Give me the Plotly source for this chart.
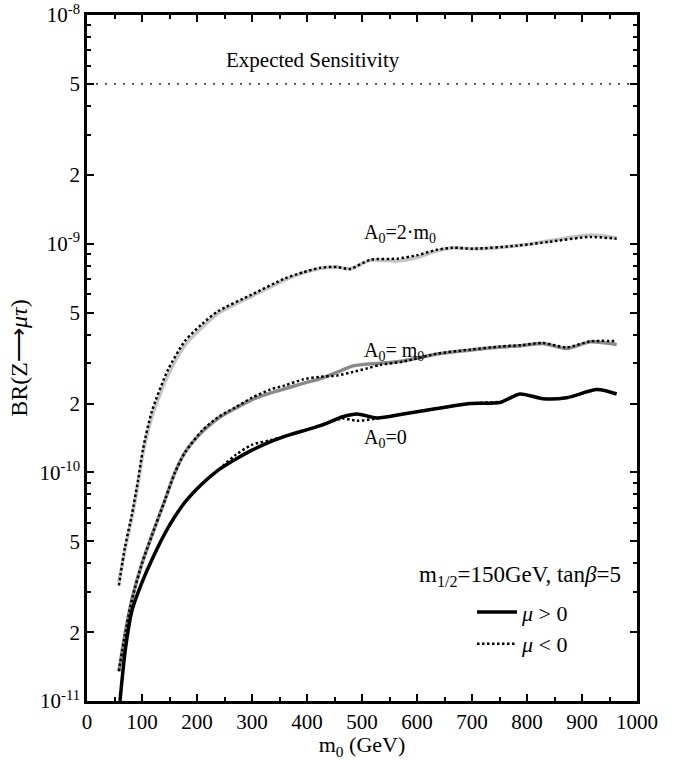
import plotly.graph_objects as go

# ---------------- data ----------------
m0_a0_pos = [60, 70, 82, 100, 118, 147, 178, 209, 238, 270, 300, 333, 365, 393, 424, 465, 491, 527, 575, 636, 696, 751, 787, 829, 872, 927, 963]
br_a0_pos = [1.0e-11, 1.7e-11, 2.5e-11, 3.3e-11, 4.15e-11, 5.7e-11, 7.4e-11, 8.9e-11, 1.02e-10, 1.14e-10, 1.25e-10, 1.36e-10,
             1.45e-10, 1.52e-10, 1.6e-10, 1.75e-10, 1.8e-10, 1.73e-10, 1.8e-10, 1.9e-10, 2.0e-10, 2.02e-10, 2.2e-10,
             2.1e-10, 2.12e-10, 2.3e-10, 2.2e-10]

m0_a0_neg = [150, 178, 209, 238, 270, 300, 333, 365, 393, 424, 465, 491, 527, 575, 636, 696, 750]
br_a0_neg = [5.9e-11, 7.4e-11, 8.9e-11, 1.02e-10, 1.19e-10, 1.32e-10, 1.38e-10, 1.45e-10, 1.52e-10, 1.6e-10, 1.72e-10,
             1.68e-10, 1.72e-10, 1.8e-10, 1.9e-10, 2.0e-10, 2.03e-10]

m0_a1_pos = [58, 69, 82, 100, 118, 142, 160, 178, 209, 238, 269, 300, 333, 360, 393, 425, 455, 484, 533, 575, 636,
             696, 751, 790, 829, 872, 915, 963]
br_a1_pos = [1.35e-11, 1.95e-11, 2.8e-11, 4.0e-11, 5.3e-11, 7.6e-11, 1.0e-10, 1.22e-10, 1.5e-10, 1.72e-10, 1.9e-10,
             2.08e-10, 2.22e-10, 2.32e-10, 2.45e-10, 2.57e-10, 2.74e-10, 2.92e-10, 3.0e-10, 3.07e-10, 3.29e-10,
             3.42e-10, 3.53e-10, 3.58e-10, 3.66e-10, 3.48e-10, 3.72e-10, 3.62e-10]

m0_a1_neg = [58, 69, 82, 100, 118, 142, 160, 178, 209, 238, 269, 300, 333, 360, 393, 425, 455, 484, 510, 533, 575,
             636, 696, 751, 790, 829, 872, 915, 963]
br_a1_neg = [1.35e-11, 1.95e-11, 2.8e-11, 4.0e-11, 5.3e-11, 7.6e-11, 1.0e-10, 1.22e-10, 1.52e-10, 1.74e-10, 1.92e-10,
             2.12e-10, 2.3e-10, 2.4e-10, 2.55e-10, 2.62e-10, 2.65e-10, 2.75e-10, 2.85e-10, 2.95e-10, 3.05e-10,
             3.3e-10, 3.44e-10, 3.55e-10, 3.6e-10, 3.68e-10, 3.52e-10, 3.74e-10, 3.75e-10]

m0_a2_pos = [58, 69, 82, 93, 102, 118, 147, 178, 209, 238, 300, 360, 393, 425, 455, 478, 515, 564, 600, 636, 666,
             702, 782, 842, 915, 963]
br_a2_pos = [3.3e-11, 4.6e-11, 6.4e-11, 9.0e-11, 1.22e-10, 1.75e-10, 2.65e-10, 3.6e-10, 4.3e-10, 4.95e-10, 5.9e-10,
             6.95e-10, 7.45e-10, 7.8e-10, 7.9e-10, 7.75e-10, 8.45e-10, 8.4e-10, 8.7e-10, 9.3e-10, 9.6e-10, 9.5e-10,
             9.8e-10, 1.03e-9, 1.09e-9, 1.06e-9]

m0_a2_neg = [58, 69, 82, 93, 102, 118, 147, 178, 209, 238, 300, 360, 393, 425, 455, 478, 515, 564, 600, 636, 666,
             702, 782, 842, 915, 963]
br_a2_neg = [3.2e-11, 4.7e-11, 6.6e-11, 9.3e-11, 1.27e-10, 1.85e-10, 2.8e-10, 3.75e-10, 4.45e-10, 5.06e-10, 6.0e-10,
             7.05e-10, 7.5e-10, 7.85e-10, 7.9e-10, 7.75e-10, 8.5e-10, 8.6e-10, 8.9e-10, 9.4e-10, 9.6e-10, 9.5e-10,
             9.8e-10, 1.02e-9, 1.07e-9, 1.05e-9]

sens_x = [0, 1000]
sens_y = [5e-9, 5e-9]

y_tickvals = [1e-11, 2e-11, 5e-11, 1e-10, 2e-10, 5e-10, 1e-9, 2e-9, 5e-9, 1e-8]
y_ticktext = ["10<sup>-11</sup>", "2", "5", "10<sup>-10</sup>", "2", "5", "10<sup>-9</sup>", "2", "5", "10<sup>-8</sup>"]
y_minor = [m * 10.0 ** e for e in (-11, -10, -9) for m in (3, 4, 6, 7, 8, 9)]
x_tickvals = list(range(0, 1001, 100))

FONT = "Liberation Serif, Times New Roman, serif"

fig = go.Figure()

fig.add_trace(go.Scatter(x=sens_x, y=sens_y, mode="lines", showlegend=False,
                         line=dict(color="black", width=1.2, dash="2px,7px")))

# mu > 0 curves (solid)
fig.add_trace(go.Scatter(x=m0_a2_pos, y=br_a2_pos, mode="lines", showlegend=False,
                         line=dict(color="#c4c4c4", width=3.5, shape="spline", smoothing=0.7)))
fig.add_trace(go.Scatter(x=m0_a1_pos, y=br_a1_pos, mode="lines", showlegend=False,
                         line=dict(color="#8a8a8a", width=3.5, shape="spline", smoothing=0.7)))
fig.add_trace(go.Scatter(x=m0_a0_pos, y=br_a0_pos, mode="lines", name="<i>μ</i> > 0",
                         line=dict(color="black", width=3.5, shape="spline", smoothing=0.7)))

# mu < 0 curves (dotted)
fig.add_trace(go.Scatter(x=m0_a2_neg, y=br_a2_neg, mode="lines", showlegend=False,
                         line=dict(color="black", width=2.5, dash="2.5px,2.5px", shape="spline", smoothing=0.7)))
fig.add_trace(go.Scatter(x=m0_a1_neg, y=br_a1_neg, mode="lines", showlegend=False,
                         line=dict(color="black", width=2.5, dash="2.5px,2.5px", shape="spline", smoothing=0.7)))
fig.add_trace(go.Scatter(x=m0_a0_neg, y=br_a0_neg, mode="lines", name="<i>μ</i> < 0",
                         line=dict(color="black", width=2.5, dash="2.5px,2.5px", shape="spline", smoothing=0.7)))

ann_font = dict(family=FONT, size=20, color="black")
annotations = [
    dict(x=410, y=-8.196, text="Expected Sensitivity", showarrow=False, xanchor="center", yanchor="middle",
         font=dict(family=FONT, size=21, color="black")),
    dict(x=500, y=-8.957, text="A<sub>0</sub>=2·m<sub>0</sub>", showarrow=False, xanchor="left", yanchor="middle",
         font=ann_font),
    dict(x=500, y=-9.47, text="A<sub>0</sub>= m<sub>0</sub>", showarrow=False, xanchor="left", yanchor="middle",
         font=ann_font),
    dict(x=500, y=-9.852, text="A<sub>0</sub>=0", showarrow=False, xanchor="left", yanchor="middle",
         font=ann_font),
    dict(x=600, y=-10.455, text="m<sub>1/2</sub>=150GeV, tan<i>β</i>=5", showarrow=False, xanchor="left",
         yanchor="middle", font=dict(family=FONT, size=23, color="black")),
]

axis_common = dict(showline=True, linecolor="black", linewidth=2.5, mirror="ticks", ticks="inside",
                   tickcolor="black", tickwidth=2, showgrid=False, zeroline=False, automargin=False,
                   ticklabeloverflow="allow",
                   tickfont=dict(family=FONT, size=21, color="black"))

fig.update_layout(
    width=689, height=760,
    margin=dict(l=87, r=52, t=15, b=59),
    paper_bgcolor="white", plot_bgcolor="white",
    font=dict(family=FONT, color="black"),
    xaxis=dict(range=[0, 1000], tickvals=x_tickvals, ticklen=7,
               minor=dict(tickvals=list(range(50, 1000, 100)), ticks="inside", ticklen=4, tickcolor="black",
                          tickwidth=1.5),
               title=dict(text="m<sub>0</sub> (GeV)", font=dict(family=FONT, size=22), standoff=0),
               **axis_common),
    yaxis=dict(type="log", range=[-11, -8], tickvals=y_tickvals, ticktext=y_ticktext, ticklen=7,
               minor=dict(tickvals=y_minor, ticks="inside", ticklen=4, tickcolor="black", tickwidth=1.5),
               title=dict(text="BR(Z⟶<i>μτ</i>)", font=dict(family=FONT, size=24), standoff=6),
               **axis_common),
    annotations=annotations,
    showlegend=True,
    legend=dict(x=0.70, y=0.16, xanchor="left", yanchor="top", bgcolor="rgba(0,0,0,0)",
                font=dict(family=FONT, size=22, color="black"), tracegroupgap=0, itemwidth=40),
)

fig.write_html("out.html")
